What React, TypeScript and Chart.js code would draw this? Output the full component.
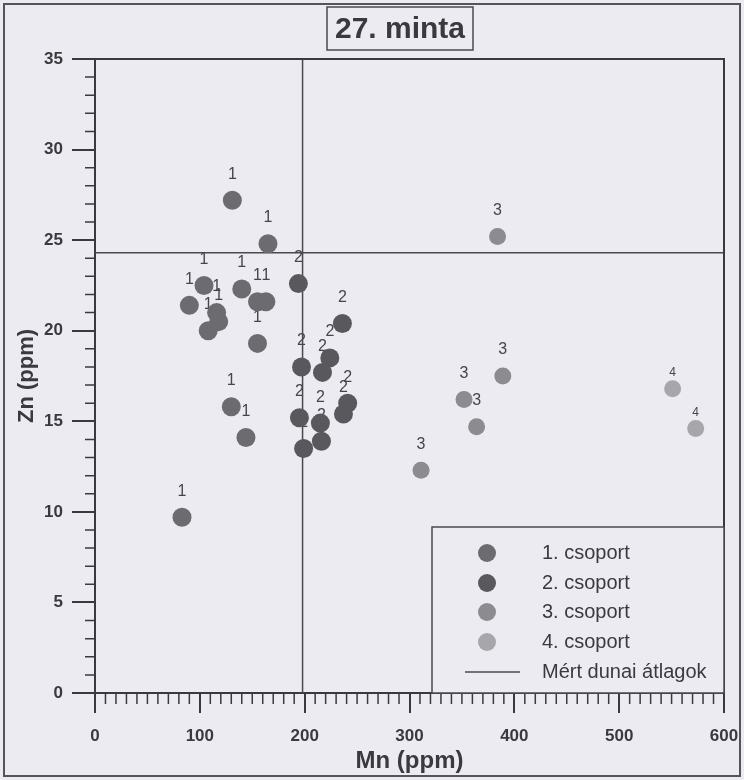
import { useEffect, useRef } from 'react';
import { Chart, registerables } from 'chart.js';
Chart.register(...registerables);

// ---- data ----
const groupNames = ['1. csoport', '2. csoport', '3. csoport', '4. csoport'];
const groupLabels = ['1', '2', '3', '4'];
const group1Mn = [131, 165, 104, 90, 116, 118, 108, 140, 155, 163, 155, 130, 144, 83];
const group1Zn = [27.2, 24.8, 22.5, 21.4, 21.0, 20.5, 20.0, 22.3, 21.6, 21.6, 19.3, 15.8, 14.1, 9.7];
const group2Mn = [194, 236, 197, 224, 217, 241, 237, 195, 215, 216, 199];
const group2Zn = [22.6, 20.4, 18.0, 18.5, 17.7, 16.0, 15.4, 15.2, 14.9, 13.9, 13.5];
const group3Mn = [384, 389, 352, 364, 311];
const group3Zn = [25.2, 17.5, 16.2, 14.7, 12.3];
const group4Mn = [551, 573];
const group4Zn = [16.8, 14.6];
const avgMn = 198;
const avgZn = 24.3;
const avgLabel = 'Mért dunai átlagok';
const xRange = [0, 600];
const xMajorStep = 100;
const xMinorStep = 10;
const yRange = [0, 35];
const yMajorStep = 5;
const yMinorStep = 1;
const titleText = '27. minta';
const xTitle = 'Mn (ppm)';
const yTitle = 'Zn (ppm)';

// ---- style ----
const BG = '#ecebf1';
const INK = '#3a3a3e';
const groupColors = ['#6b6b70', '#58585d', '#8b8b90', '#a6a6ab'];
const groupRadius = [9.5, 9.5, 8.5, 8.5];
const labelFont = ['16px', '16px', '16px', '12px'];
const labelOffset = [26, 26, 26, 16];
const FONT = "'Liberation Sans', Arial, sans-serif";

function toPoints(xs: number[], ys: number[]) {
  return xs.map((x, i) => ({ x, y: ys[i] }));
}

export default function App() {
  const ref = useRef<HTMLCanvasElement | null>(null);
  useEffect(() => {
    const canvas = ref.current;
    if (!canvas) return;
    const groups = [
      toPoints(group1Mn, group1Zn),
      toPoints(group2Mn, group2Zn),
      toPoints(group3Mn, group3Zn),
      toPoints(group4Mn, group4Zn),
    ];
    const datasets: any[] = groups.map((g, i) => ({
      label: groupNames[i],
      data: g,
      backgroundColor: groupColors[i],
      borderWidth: 0,
      pointRadius: groupRadius[i],
      pointHoverRadius: groupRadius[i],
      order: 1,
    }));
    datasets.push({
      label: avgLabel,
      data: [{ x: avgMn, y: yRange[0] }, { x: avgMn, y: yRange[1] }],
      showLine: true,
      borderColor: '#4a4a4e',
      borderWidth: 1.5,
      pointRadius: 0,
      order: 5,
    });
    datasets.push({
      label: avgLabel,
      data: [{ x: xRange[0], y: avgZn }, { x: xRange[1], y: avgZn }],
      showLine: true,
      borderColor: '#4a4a4e',
      borderWidth: 1.5,
      pointRadius: 0,
      order: 5,
    });

    const bgPlugin = {
      id: 'bgfill',
      beforeDraw(chart: any) {
        const c = chart.ctx;
        c.save();
        c.fillStyle = BG;
        c.fillRect(0, 0, chart.width, chart.height);
        c.restore();
      },
    };

    const decor = {
      id: 'decor',
      beforeDatasetsDraw(chart: any) {
        const c = chart.ctx;
        c.save();
        c.fillStyle = '#45454a';
        c.textAlign = 'center';
        c.textBaseline = 'middle';
        for (let i = 0; i < 4; i++) {
          const meta = chart.getDatasetMeta(i);
          c.font = `${labelFont[i]} ${FONT}`;
          meta.data.forEach((el: any) => {
            c.fillText(groupLabels[i], el.x, el.y - labelOffset[i]);
          });
        }
        c.restore();
      },
      afterDraw(chart: any) {
        const c = chart.ctx;
        const a = chart.chartArea;
        const xs = chart.scales.x;
        const ys = chart.scales.y;
        c.save();
        // frame top/right
        c.strokeStyle = INK;
        c.lineWidth = 2;
        c.beginPath();
        c.moveTo(a.left, a.top);
        c.lineTo(a.right, a.top);
        c.lineTo(a.right, a.bottom);
        c.stroke();
        // minor ticks
        c.lineWidth = 1.5;
        c.beginPath();
        for (let v = yRange[0]; v <= yRange[1]; v += yMinorStep) {
          if (v % yMajorStep === 0) continue;
          const p = ys.getPixelForValue(v);
          c.moveTo(a.left - 10, p);
          c.lineTo(a.left, p);
        }
        for (let v = xRange[0]; v <= xRange[1]; v += xMinorStep) {
          if (v % xMajorStep === 0) continue;
          const p = xs.getPixelForValue(v);
          c.moveTo(p, a.bottom);
          c.lineTo(p, a.bottom + 11);
        }
        c.stroke();

        // legend box
        const lx = 432, ly = 527;
        c.fillStyle = BG;
        c.fillRect(lx, ly, a.right - lx, a.bottom - ly);
        c.strokeStyle = '#4a4a4e';
        c.lineWidth = 1.5;
        c.strokeRect(lx, ly, a.right - lx, a.bottom - ly);
        const rows = [553, 583, 612, 642, 672];
        c.font = `20px ${FONT}`;
        c.textAlign = 'left';
        c.textBaseline = 'middle';
        for (let i = 0; i < 4; i++) {
          c.fillStyle = groupColors[i];
          c.beginPath();
          c.arc(487, rows[i], 9, 0, Math.PI * 2);
          c.fill();
          c.fillStyle = INK;
          c.fillText(groupNames[i], 542, rows[i]);
        }
        c.strokeStyle = '#4a4a4e';
        c.lineWidth = 1.5;
        c.beginPath();
        c.moveTo(465, rows[4]);
        c.lineTo(520, rows[4]);
        c.stroke();
        c.fillStyle = INK;
        c.fillText(avgLabel, 542, rows[4]);

        // title box
        c.fillStyle = BG;
        c.fillRect(327, 7, 146, 43);
        c.strokeStyle = '#4a4a4e';
        c.lineWidth = 1.5;
        c.strokeRect(327, 7, 146, 43);
        c.fillStyle = INK;
        c.font = `bold 30px ${FONT}`;
        c.textAlign = 'center';
        c.fillText(titleText, 400, 30);

        // outer border
        c.strokeStyle = '#555559';
        c.lineWidth = 2;
        c.strokeRect(4, 4, chart.width - 8, chart.height - 8);
        c.restore();
      },
    };

    const chart = new Chart(canvas, {
      type: 'scatter',
      data: { datasets },
      plugins: [bgPlugin, decor],
      options: {
        animation: false,
        responsive: false,
        events: [],
        layout: { padding: { left: 0, top: 59, right: 20, bottom: 0 } },
        plugins: { legend: { display: false }, tooltip: { enabled: false } },
        scales: {
          x: {
            type: 'linear',
            min: xRange[0],
            max: xRange[1],
            afterFit: (s: any) => { s.height = 87; s.paddingLeft = 0; s.paddingRight = 0; },
            ticks: {
              stepSize: xMajorStep,
              color: INK,
              padding: 13,
              font: { family: FONT, size: 17, weight: 'bold' },
              maxRotation: 0,
            },
            grid: { drawOnChartArea: false, drawTicks: true, tickLength: 20, color: INK, lineWidth: 2 },
            border: { display: true, color: INK, width: 2 },
            title: {
              display: true,
              text: xTitle,
              color: INK,
              font: { family: FONT, size: 24, weight: 'bold' },
              padding: { top: 0, bottom: 4 },
            },
          },
          y: {
            type: 'linear',
            min: yRange[0],
            max: yRange[1],
            afterFit: (s: any) => { s.width = 95; s.paddingTop = 0; s.paddingBottom = 0; },
            ticks: {
              stepSize: yMajorStep,
              color: INK,
              padding: 9,
              font: { family: FONT, size: 17, weight: 'bold' },
            },
            grid: { drawOnChartArea: false, drawTicks: true, tickLength: 23, color: INK, lineWidth: 2 },
            border: { display: true, color: INK, width: 2 },
            title: {
              display: true,
              text: yTitle,
              color: INK,
              font: { family: FONT, size: 22, weight: 'bold' },
              padding: { top: 14, bottom: 0 },
            },
          },
        },
      },
    });
    return () => chart.destroy();
  }, []);

  return (
    <div style={{ position: 'absolute', left: 0, top: 0, width: 744, height: 780 }}>
      <canvas ref={ref} width={744} height={780} style={{ display: 'block' }} />
    </div>
  );
}
